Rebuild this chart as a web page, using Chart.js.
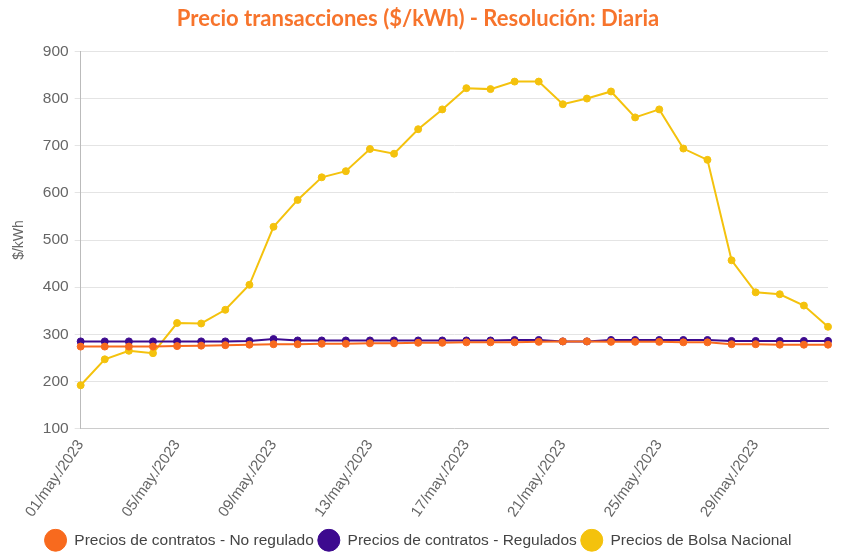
<!DOCTYPE html>
<html>
<head>
<meta charset="utf-8">
<script src="https://cdn.jsdelivr.net/npm/chart.js@4.4.0/dist/chart.umd.min.js"></script>
<style>
  html, body { margin: 0; padding: 0; background: #fff; }
  #wrap { width: 844px; height: 558px; }
</style>
</head>
<body>
<div id="wrap"><canvas id="grafica"></canvas></div>
<script>
// fechas (una por dia)
var fechas = ["01/may./2023","02/may./2023","03/may./2023","04/may./2023","05/may./2023","06/may./2023",
  "07/may./2023","08/may./2023","09/may./2023","10/may./2023","11/may./2023","12/may./2023",
  "13/may./2023","14/may./2023","15/may./2023","16/may./2023","17/may./2023","18/may./2023",
  "19/may./2023","20/may./2023","21/may./2023","22/may./2023","23/may./2023","24/may./2023",
  "25/may./2023","26/may./2023","27/may./2023","28/may./2023","29/may./2023","30/may./2023",
  "31/may./2023","01/jun./2023"];

var noRegulado = [274,274,274,274,275,276,277,278,279,279,280,280,281,281,282,282,
  283,283,283,284,285,285,284,284,284,283,283,279,279,278,278,278];
var regulados = [285,285,285,285,285,285,285,286,290,287,287,287,287,287,287,287,
  287,287,288,288,285,285,288,288,288,288,288,286,286,286,286,286];
var bolsa = [192,247,265,260,324,323,352,405,528,585,633,646,693,683,735,777,
  822,820,836,836,788,800,815,760,777,694,670,457,389,385,361,316];

var ticksY = [100,200,300,400,500,600,700,800,900];

var colNoReg = "#F86A1E";
var colReg = "#3D0A8F";
var colBolsa = "#F4C20D";

var fuente = "'Liberation Sans', Arial, sans-serif";

function serie(nombre, datos, color){
  return {
    label: nombre,
    data: datos,
    borderColor: color,
    backgroundColor: color,
    borderWidth: 2,
    pointRadius: 3.5,
    pointBorderWidth: 1,
    pointHoverRadius: 5,
    tension: 0
  };
}

var ctx = document.getElementById('grafica').getContext('2d');
var chart = new Chart(ctx, {
  type: 'line',
  data: {
    labels: fechas,
    datasets: [
      serie("Precios de contratos - No regulado", noRegulado, colNoReg),
      serie("Precios de contratos - Regulados", regulados, colReg),
      serie("Precios de Bolsa Nacional", bolsa, colBolsa)
    ]
  },
  options: {
    responsive: true,
    maintainAspectRatio: false,
    animation: false,
    layout: { padding: { left: 8, right: 16, top: 2, bottom: 0 } },
    plugins: {
      title: {
        display: true,
        text: "Precio transacciones ($/kWh) - Resolución: Diaria",
        color: "#F7742C",
        font: { family: "Lato", size: 22, weight: "bold" },
        padding: { top: 4, bottom: 19 }
      },
      legend: {
        position: 'bottom',
        labels: {
          usePointStyle: true,
          pointStyle: 'circle',
          pointStyleWidth: 22,
          color: "#444",
          font: { family: fuente, size: 15.5 },
          padding: 4
        }
      },
      tooltip: { enabled: false }
    },
    scales: {
      x: {
        grid: { display: false, drawTicks: false },
        border: { display: true, color: "#ccc" },
        // la etiqueta vacia del final no necesita espacio a la derecha
        afterFit: function(scale){ scale.paddingRight = 0; },
        ticks: {
          autoSkip: false,
          maxRotation: 55,
          minRotation: 55,
          color: "#666",
          padding: 8,
          font: { family: fuente, size: 15 },
          callback: function(val, i){ return i % 4 === 0 ? fechas[i] : ""; }
        }
      },
      y: {
        min: ticksY[0],
        max: ticksY[ticksY.length - 1],
        grid: { color: "#e4e4e4", tickLength: 6 },
        border: { color: "#bbb" },
        ticks: {
          stepSize: 100,
          color: "#666",
          padding: 6,
          font: { family: fuente, size: 15.5 }
        },
        title: {
          display: true,
          text: "$/kWh",
          color: "#666",
          font: { family: fuente, size: 14 },
          padding: { top: 3, bottom: 9 }
        }
      }
    }
  }
});
</script>
</body>
</html>
